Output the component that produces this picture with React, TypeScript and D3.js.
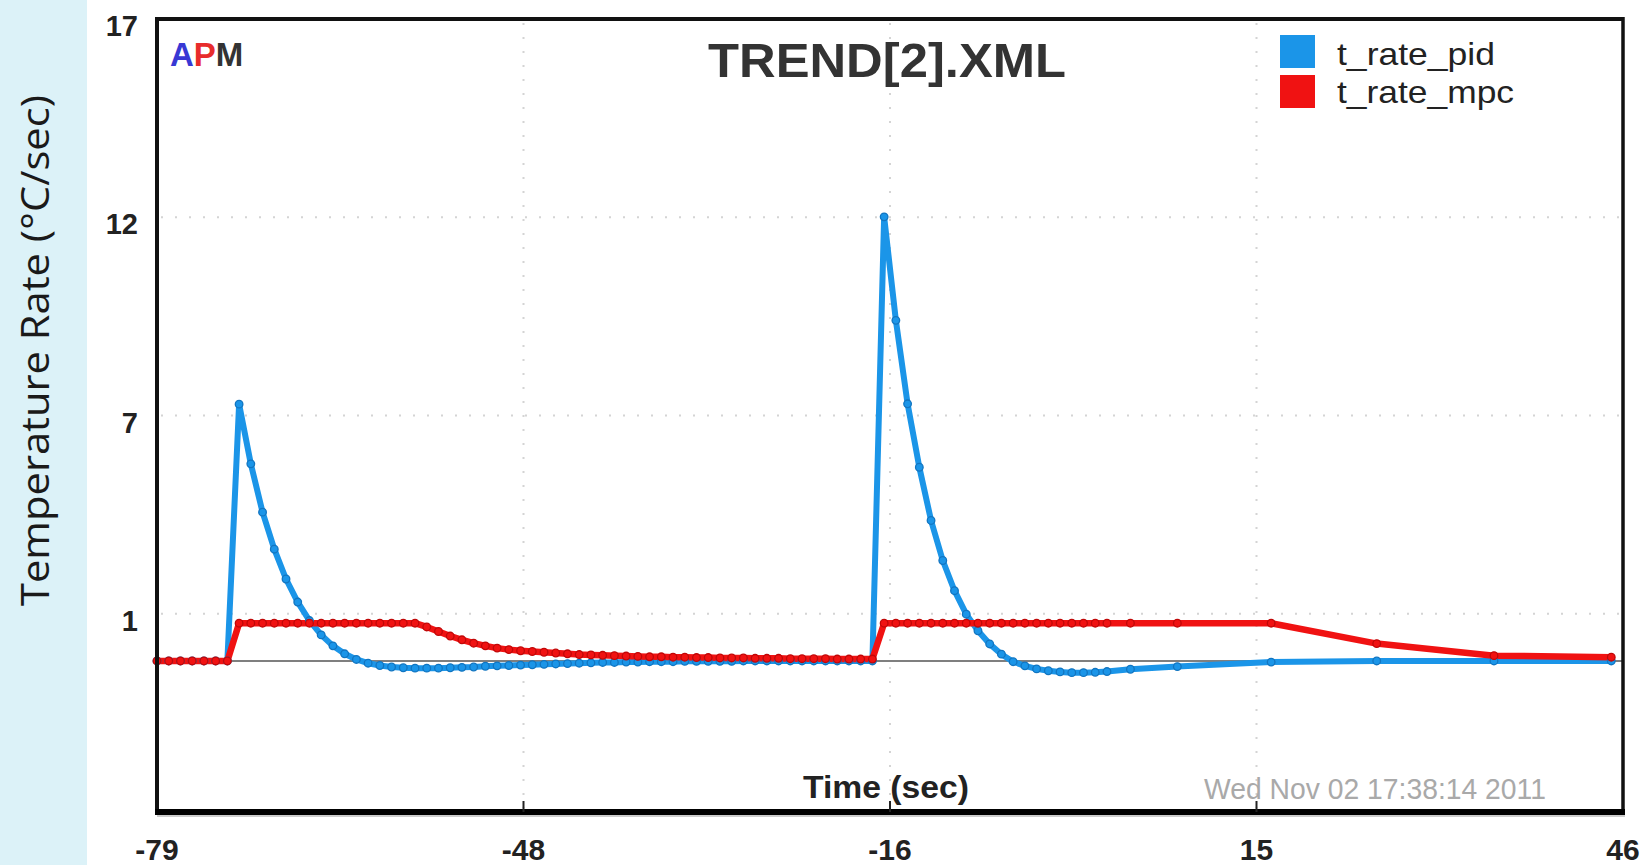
import React from "react";
import * as d3 from "d3";

// ---------- data ----------
const times = [
  -79, -78, -77, -76, -75, -74, -73,
  -72, -71, -70, -69, -68, -67, -66, -65, -64, -63,
  -62, -61, -60, -59, -58, -57, -56, -55, -54, -53,
  -52, -51, -50, -49, -48, -47, -46, -45, -44, -43,
  -42, -41, -40, -39, -38, -37, -36, -35, -34, -33,
  -32, -31, -30, -29, -28, -27, -26, -25, -24, -23,
  -22, -21, -20, -19, -18,
  -17, -16, -15, -14, -13, -12, -11, -10, -9, -8,
  -7, -6, -5, -4, -3, -2, -1, 0, 1, 2,
  4, 8, 16, 25, 35, 45,
];

const tRatePid = [
  0, 0, 0, 0, 0, 0, 0,
  6.8, 5.22, 3.94, 2.96, 2.17, 1.56, 1.07, 0.69, 0.4, 0.19,
  0.04, -0.06, -0.12, -0.16, -0.18, -0.19, -0.19, -0.19, -0.18, -0.17,
  -0.16, -0.14, -0.13, -0.12, -0.11, -0.1, -0.09, -0.08, -0.07, -0.06,
  -0.05, -0.04, -0.04, -0.03, -0.03, -0.02, -0.02, -0.02, -0.01, -0.01,
  -0.01, -0.01, -0.01, 0, 0, 0, 0, 0, 0, 0,
  0, 0, 0, 0, 0,
  11.76, 9.02, 6.81, 5.13, 3.72, 2.66, 1.86, 1.24, 0.8, 0.45,
  0.18, -0.02, -0.13, -0.21, -0.26, -0.29, -0.31, -0.31, -0.3, -0.28,
  -0.22, -0.15, -0.03, 0, 0, 0,
];

const tRateMpc = [
  0, 0, 0, 0, 0, 0, 0,
  1, 1, 1, 1, 1, 1, 1, 1, 1, 1,
  1, 1, 1, 1, 1, 1, 0.9, 0.78, 0.66, 0.56,
  0.47, 0.4, 0.34, 0.3, 0.27, 0.25, 0.23, 0.21, 0.19, 0.17,
  0.16, 0.15, 0.14, 0.13, 0.12, 0.11, 0.11, 0.1, 0.1, 0.09,
  0.09, 0.08, 0.08, 0.08, 0.07, 0.07, 0.07, 0.06, 0.06, 0.06,
  0.06, 0.05, 0.05, 0.05, 0.05,
  1, 1, 1, 1, 1, 1, 1, 1, 1, 1,
  1, 1, 1, 1, 1, 1, 1, 1, 1, 1,
  1, 1, 1, 0.46, 0.14, 0.1,
];

const xDomain = [-79, 46];
const yDomain = [-4, 17];
const xTickValues = [-79, -47.75, -16.5, 14.75, 46];
const xTickLabels = ["-79", "-48", "-16", "15", "46"];
const yTickValues = [17, 11.75, 6.5, 1.25];
const yTickLabels = ["17", "12", "7", "1"];

const seriesNames = ["t_rate_pid", "t_rate_mpc"];
const seriesColors = ["#1b95e8", "#f01212"];
const markerColors = ["#1275c0", "#c00808"];

const titleText = "TREND[2].XML";
const xAxisTitle = "Time (sec)";
const yAxisTitle = "Temperature Rate (°C/sec)";
const stampText = "Wed Nov 02 17:38:14 2011";

// ---------- layout ----------
const W = 1652;
const H = 865;
const L = 157, R = 1623, T = 19, B = 812;

export default function App() {
  const x = d3.scaleLinear().domain(xDomain).range([L, R]);
  const y = d3.scaleLinear().domain(yDomain).range([B, T]);

  const seriesValues = [tRatePid, tRateMpc];
  const line = d3
    .line<number>()
    .x((_, i) => x(times[i]))
    .y((v) => y(v));

  const grid = { stroke: "#d4d4d4", strokeWidth: 2, strokeDasharray: "2 12" };
  const sans = "'Liberation Sans', Arial, sans-serif";

  return (
    <svg
      width={W}
      height={H}
      style={{ position: "absolute", left: 0, top: 0, background: "#fff" }}
    >
      <rect x={0} y={0} width={W} height={H} fill="#ffffff" />
      {/* left panel */}
      <rect x={0} y={0} width={87} height={H} fill="#dcf2f8" />
      <text
        transform={`translate(49,350.5) rotate(-90)`}
        textAnchor="middle"
        fontFamily="'Open Sans', 'Noto Sans', sans-serif"
        fontSize={38}
        fill="#1a1a1a"
        textLength={511}
        lengthAdjust="spacingAndGlyphs"
      >
        {yAxisTitle}
      </text>

      {/* plot background */}
      <rect x={L} y={T} width={R - L} height={B - T} fill="#ffffff" />

      {/* grid lines */}
      {yTickValues.slice(1).map((v) => (
        <line key={"gy" + v} x1={L + 4} x2={R - 4} y1={y(v)} y2={y(v)} {...grid} />
      ))}
      {xTickValues.slice(1, -1).map((v) => (
        <line key={"gx" + v} x1={x(v)} x2={x(v)} y1={T + 4} y2={B - 4} {...grid} />
      ))}

      {/* zero line */}
      <line x1={L} x2={R} y1={y(0)} y2={y(0)} stroke="#555" strokeWidth={1.6} />

      {/* series lines */}
      {seriesValues.map((vals, si) => (
        <path
          key={"l" + si}
          d={line(vals) || ""}
          fill="none"
          stroke={seriesColors[si]}
          strokeWidth={si === 0 ? 6 : 6.5}
          strokeLinejoin="round"
          strokeLinecap="round"
        />
      ))}
      {seriesValues.map((vals, si) => (
        <g key={"m" + si}>
          {vals.map((v, i) => (
            <circle
              key={i}
              cx={x(times[i])}
              cy={y(v)}
              r={3.8}
              fill={seriesColors[si]}
              stroke={markerColors[si]}
              strokeWidth={1.3}
            />
          ))}
        </g>
      ))}

      {/* frame */}
      <line x1={L} x2={R} y1={T} y2={T} stroke="#111" strokeWidth={4} />
      <line x1={L} x2={L} y1={T - 2} y2={B + 3} stroke="#111" strokeWidth={4} />
      <line x1={R} x2={R} y1={T - 2} y2={B + 3} stroke="#111" strokeWidth={3.5} />
      <line x1={L - 2} x2={R + 2} y1={B} y2={B} stroke="#000" strokeWidth={6} />
      <line x1={L} x2={R + 2} y1={B + 4} y2={B + 4} stroke="#bbb" strokeWidth={1.5} />

      {/* x ticks */}
      {xTickValues.slice(1, -1).map((v) => (
        <line key={"tx" + v} x1={x(v)} x2={x(v)} y1={B} y2={B - 11} stroke="#222" strokeWidth={2} />
      ))}

      {/* tick labels */}
      {yTickValues.map((v, i) => (
        <text
          key={"yl" + v}
          x={138}
          y={y(v) + 17}
          textAnchor="end"
          fontFamily={sans}
          fontWeight="bold"
          fontSize={29}
          fill="#222"
        >
          {yTickLabels[i]}
        </text>
      ))}
      {xTickValues.map((v, i) => (
        <text
          key={"xl" + v}
          x={x(v)}
          y={860}
          textAnchor="middle"
          fontFamily={sans}
          fontWeight="bold"
          fontSize={30}
          fill="#222"
        >
          {xTickLabels[i]}
        </text>
      ))}

      {/* APM logo */}
      <text x={170} y={66} fontFamily={sans} fontWeight="bold" fontSize={33}>
        <tspan fill="#3838d4">A</tspan>
        <tspan fill="#e82c2c">P</tspan>
        <tspan fill="#333">M</tspan>
      </text>

      {/* title */}
      <text
        x={887}
        y={77}
        textAnchor="middle"
        fontFamily={sans}
        fontWeight="bold"
        fontSize={49}
        fill="#333"
        textLength={358}
        lengthAdjust="spacingAndGlyphs"
      >
        {titleText}
      </text>

      {/* legend */}
      {seriesNames.map((n, i) => (
        <g key={"lg" + n}>
          <rect x={1280} y={35 + i * 40} width={35} height={33} fill={seriesColors[i]} />
          <text
            x={1337}
            y={65 + i * 38}
            fontFamily={sans}
            fontSize={32}
            fill="#222"
            textLength={i === 0 ? 158 : 177}
            lengthAdjust="spacingAndGlyphs"
          >
            {n}
          </text>
        </g>
      ))}

      {/* axis title & stamp */}
      <text
        x={886}
        y={798}
        textAnchor="middle"
        fontFamily={sans}
        fontWeight="bold"
        fontSize={32}
        fill="#222"
        textLength={166}
        lengthAdjust="spacingAndGlyphs"
      >
        {xAxisTitle}
      </text>
      <text
        x={1204}
        y={799}
        fontFamily={sans}
        fontSize={29}
        fill="#a9a9a9"
        textLength={342}
        lengthAdjust="spacingAndGlyphs"
      >
        {stampText}
      </text>
    </svg>
  );
}
